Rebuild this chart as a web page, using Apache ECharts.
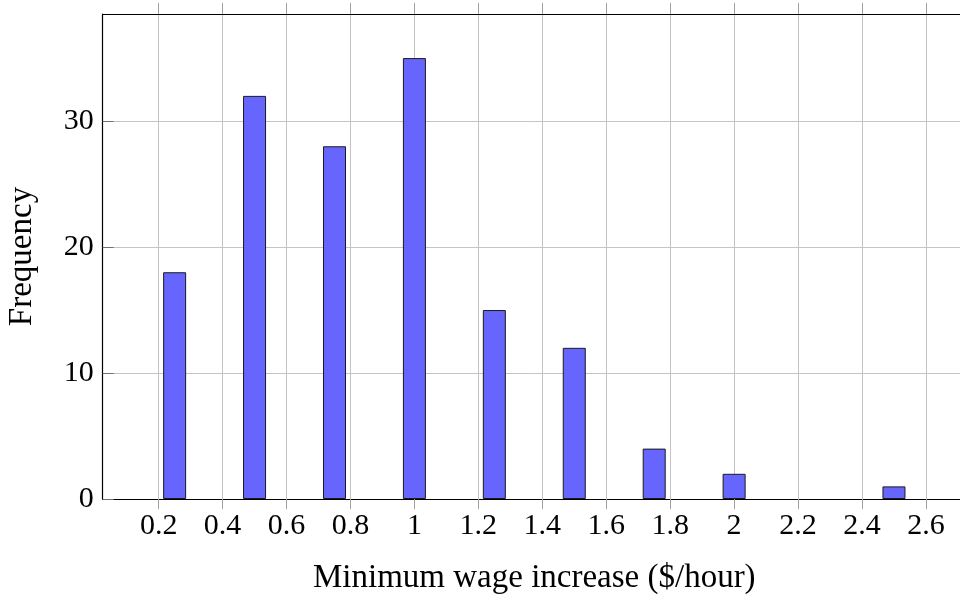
<!DOCTYPE html>
<html>
<head>
<meta charset="utf-8">
<script src="https://cdn.jsdelivr.net/npm/echarts@6/dist/echarts.min.js"></script>
<style>html,body{margin:0;padding:0;background:#fff}#c{width:960px;height:597px}</style>
</head>
<body>
<div id="c"></div>
<script>
const binCenters = [0.25, 0.5, 0.75, 1.0, 1.25, 1.5, 1.75, 2.0, 2.5];
const frequencies = [18, 32, 28, 35, 15, 12, 4, 2, 1];
const xTickValues = [0.2, 0.4, 0.6, 0.8, 1, 1.2, 1.4, 1.6, 1.8, 2, 2.2, 2.4, 2.6];
const yTickValues = [0, 10, 20, 30];
const xMin = 0.025, xMax = 2.725, yMin = 0, yMax = 38.5;

const font = 'Liberation Serif';
const gridColor = '#c4c4c4';
const chart = echarts.init(document.getElementById('c'), null, {renderer: 'canvas'});
chart.setOption({
  animation: false,
  backgroundColor: '#fff',
  grid: {left: 102.7, top: 14, width: 863.2, height: 485, containLabel: false, outerBoundsMode: 'none'},
  xAxis: [{
    type: 'value', position: 'bottom', min: xMin, max: xMax,
    axisLine: {show: true, lineStyle: {color: '#000', width: 1.2}},
    axisTick: {show: true, inside: false, length: 10, customValues: xTickValues, lineStyle: {color: '#a0a0a0', width: 1}},
    axisLabel: {show: true, customValues: xTickValues, margin: 12, fontFamily: font, fontSize: 30, color: '#000',
      formatter: v => String(Math.round(v * 10) / 10)},
    splitLine: {show: true, lineStyle: {color: gridColor, width: 1}},
    name: 'Minimum wage increase ($/hour)', nameLocation: 'middle', nameGap: 63,
    nameTextStyle: {fontFamily: font, fontSize: 33, color: '#000'}
  }, {
    type: 'value', position: 'top', min: xMin, max: xMax,
    axisLine: {show: true, lineStyle: {color: '#000', width: 1.2}},
    axisTick: {show: true, inside: false, length: 11, customValues: xTickValues, lineStyle: {color: '#a0a0a0', width: 1}},
    axisLabel: {show: false},
    splitLine: {show: false}
  }],
  yAxis: {
    type: 'value', min: yMin, max: yMax, interval: 10,
    axisLine: {show: true, lineStyle: {color: '#000', width: 1.2}},
    axisTick: {show: true, inside: true, length: 11, customValues: yTickValues, lineStyle: {color: '#707070', width: 1}},
    axisLabel: {show: true, customValues: yTickValues, margin: 9, fontFamily: font, fontSize: 30, color: '#000'},
    splitLine: {show: true, lineStyle: {color: gridColor, width: 1}},
    name: 'Frequency', nameLocation: 'middle', nameGap: 64, nameRotate: 90,
    nameTextStyle: {fontFamily: font, fontSize: 33, color: '#000'}
  },
  series: [{
    type: 'bar', xAxisIndex: 0, barWidth: 23,
    data: binCenters.map((x, i) => [x, frequencies[i]]),
    itemStyle: {color: '#6666ff', borderColor: '#1a1a1a', borderWidth: 1}
  }]
});
</script>
</body>
</html>
